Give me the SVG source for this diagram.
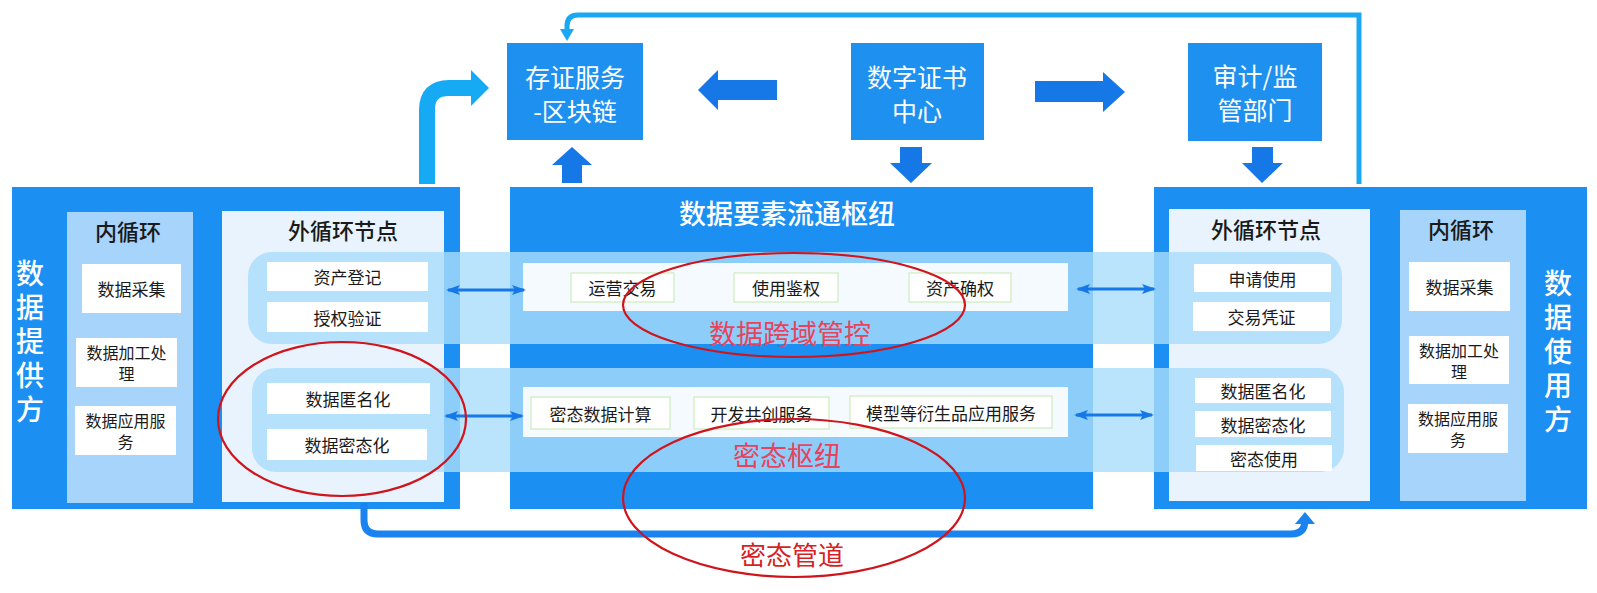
<svg xmlns="http://www.w3.org/2000/svg" width="1597" height="593" viewBox="0 0 1597 593">
<defs>
<style>
.t{font-family:"Noto Sans CJK SC","Noto Sans",sans-serif;text-anchor:middle;dominant-baseline:central}
.panel{fill:#1b8ff2}
.inner{fill:#a6d4fa}
.outer{fill:#e8f3fd}
.box{fill:#ffffff}
.hpanel{fill:#f5fafe}
.hbox{fill:#ffffff;stroke:#c6e8ad;stroke-width:1}
.band{fill:#a9dcfb;opacity:0.8}
.top{fill:#1e90f0}
.ttl{font-size:22px;font-weight:500;fill:#1a1a1a}
.lbl{font-size:17px;fill:#1a1a1a}
.lb2{font-size:16px;fill:#1a1a1a}
.wt{font-size:25px;fill:#ffffff}
.vt{font-size:28px;fill:#ffffff;font-weight:500;writing-mode:vertical-rl;letter-spacing:6px}
.red{font-size:27px;fill:#e8435a}
.ell{fill:none;stroke:#d0141c;stroke-width:2.2}
.big{fill:#1677e6}
.dbl{stroke:#1677e6;stroke-width:3;fill:none}
</style>
<marker id="ah" viewBox="0 0 14 10" refX="12" refY="5" markerWidth="14" markerHeight="10" orient="auto-start-reverse" markerUnits="userSpaceOnUse">
<path d="M0,0 L14,5 L0,10 L3,5 Z" fill="#1677e6"/>
</marker>
</defs>
<rect width="1597" height="593" fill="#ffffff"/>

<g id="provider">
<rect class="panel" x="12" y="187" width="448" height="322"/>
<text class="t vt" x="30" y="344">数据提供方</text>
</g>
<g id="hub">
<rect class="panel" x="510" y="187" width="583" height="322"/>
<text class="t" x="787" y="212" style="font-size:27px;fill:#fff;font-weight:500">数据要素流通枢纽</text>
</g>
<g id="consumer">
<rect class="panel" x="1154" y="187" width="433" height="322"/>
<text class="t vt" x="1558" y="354">数据使用方</text>
</g>

<g id="left-inner">
<rect class="inner" x="67" y="212" width="126" height="291"/>
<text class="t ttl" x="128" y="230">内循环</text>
<rect class="box" x="82" y="264" width="99" height="49"/>
<text class="t lbl" x="131.5" y="288.5">数据采集</text>
<rect class="box" x="76" y="338" width="101" height="49"/>
<text class="t lb2" x="126.5" y="352">数据加工处</text>
<text class="t lb2" x="126.5" y="373">理</text>
<rect class="box" x="75" y="406" width="101" height="49"/>
<text class="t lb2" x="125.5" y="420">数据应用服</text>
<text class="t lb2" x="125.5" y="441">务</text>
</g>

<g id="right-inner">
<rect class="inner" x="1400" y="210" width="126" height="291"/>
<text class="t ttl" x="1461" y="228">内循环</text>
<rect class="box" x="1409" y="262" width="101" height="49"/>
<text class="t lbl" x="1459.5" y="286.5">数据采集</text>
<rect class="box" x="1409" y="336" width="100" height="48"/>
<text class="t lb2" x="1459" y="350">数据加工处</text>
<text class="t lb2" x="1459" y="371">理</text>
<rect class="box" x="1408" y="404" width="100" height="49"/>
<text class="t lb2" x="1458" y="418">数据应用服</text>
<text class="t lb2" x="1458" y="439">务</text>
</g>

<g id="left-outer-bg">
<rect class="outer" x="222" y="211" width="222" height="291"/>
<text class="t ttl" x="343" y="229">外循环节点</text>
</g>
<g id="right-outer-bg">
<rect class="outer" x="1169" y="209" width="201" height="292"/>
<text class="t ttl" x="1266" y="228">外循环节点</text>
</g>

<g id="bands">
<rect class="band" x="248" y="252" width="1094" height="92" rx="24"/>
<rect class="band" x="252" y="368" width="1092" height="104" rx="24"/>
</g>

<g id="left-outer">
<rect class="box" x="267" y="262" width="161" height="29"/>
<text class="t lbl" x="347.5" y="276.5">资产登记</text>
<rect class="box" x="267" y="302" width="161" height="30"/>
<text class="t lbl" x="347.5" y="317">授权验证</text>
<rect class="box" x="267" y="383" width="163" height="31"/>
<text class="t lbl" x="348" y="398.5">数据匿名化</text>
<rect class="box" x="267" y="429" width="160" height="31"/>
<text class="t lbl" x="347" y="444.5">数据密态化</text>
</g>

<g id="right-outer">
<rect class="box" x="1194" y="264" width="137" height="28"/>
<text class="t lbl" x="1262.5" y="278">申请使用</text>
<rect class="box" x="1193" y="302" width="137" height="29"/>
<text class="t lbl" x="1261.5" y="316.5">交易凭证</text>
<rect class="box" x="1195" y="378" width="136" height="25"/>
<text class="t lbl" x="1263" y="390.5">数据匿名化</text>
<rect class="box" x="1195" y="411" width="136" height="26"/>
<text class="t lbl" x="1263" y="424">数据密态化</text>
<rect class="box" x="1196" y="445" width="136" height="26"/>
<text class="t lbl" x="1264" y="458">密态使用</text>
</g>

<g id="hub-control">
<rect class="hpanel" x="523" y="263" width="545" height="48"/>
<rect class="hbox" x="571" y="273" width="103" height="29"/>
<text class="t lbl" x="622.5" y="287.5">运营交易</text>
<rect class="hbox" x="734" y="273" width="104" height="29"/>
<text class="t lbl" x="786" y="287.5">使用鉴权</text>
<rect class="hbox" x="909" y="273" width="102" height="29"/>
<text class="t lbl" x="960" y="287.5">资产确权</text>
</g>
<g id="hub-crypto">
<rect class="hpanel" x="523" y="387" width="545" height="50"/>
<rect class="hbox" x="531" y="397" width="139" height="32"/>
<text class="t lbl" x="600.5" y="413">密态数据计算</text>
<rect class="hbox" x="694" y="397" width="135" height="32"/>
<text class="t lbl" x="761.5" y="413">开发共创服务</text>
<rect class="hbox" x="850" y="396" width="202" height="32"/>
<text class="t lbl" x="951" y="412">模型等衍生品应用服务</text>
</g>

<g id="cunzheng">
<rect class="top" x="507" y="43" width="136" height="97"/>
<text class="t wt" x="575" y="76">存证服务</text>
<text class="t wt" x="575" y="110">-区块链</text>
</g>
<g id="ca">
<rect class="top" x="851" y="43" width="133" height="97"/>
<text class="t wt" x="917" y="76">数字证书</text>
<text class="t wt" x="917" y="110">中心</text>
</g>
<g id="audit">
<rect class="top" x="1188" y="43" width="134" height="98"/>
<text class="t wt" x="1255" y="75">审计/监</text>
<text class="t wt" x="1255" y="109">管部门</text>
</g>

<g id="connectors">
<polygon class="big" points="698,90 718,70 718,80 777,80 777,100 718,100 718,110"/>
<polygon class="big" points="1035,81 1103,81 1103,72 1125,92 1103,112 1103,102 1035,102"/>
<polygon class="big" points="900,147 922,147 922,163 932,163 911,183 890,163 900,163"/>
<polygon class="big" points="1252,147 1273,147 1273,163 1283,163 1262,183 1242,163 1252,163"/>
<polygon class="big" points="562,183 582,183 582,165 592,165 572,147 552,165 562,165"/>
<path d="M427,184 V110 Q427,88 449,88 H474" fill="none" stroke="#16a9f4" stroke-width="16"/>
<polygon points="471,70 489,88 471,106" fill="#16a9f4"/>
<path d="M1359,184 V15 H578 Q567,15 567,26 V30" fill="none" stroke="#1aa8f2" stroke-width="5"/>
<polygon points="560,29 574,29 567,41" fill="#1aa8f2"/>
<path d="M364,503 V520 Q364,534 378,534 H1291 Q1305,534 1305,520 V524" fill="none" stroke="#1b83ef" stroke-width="7"/>
<polygon points="1295,524 1305,512 1315,524" fill="#1b83ef"/>
<line class="dbl" x1="448" y1="290" x2="524" y2="290" marker-start="url(#ah)" marker-end="url(#ah)"/>
<line class="dbl" x1="446" y1="416" x2="522" y2="416" marker-start="url(#ah)" marker-end="url(#ah)"/>
<line class="dbl" x1="1078" y1="289" x2="1154" y2="289" marker-start="url(#ah)" marker-end="url(#ah)"/>
<line class="dbl" x1="1076" y1="415" x2="1152" y2="415" marker-start="url(#ah)" marker-end="url(#ah)"/>
</g>

<g id="annotations">
<text class="t red" x="790" y="332">数据跨域管控</text>
<text class="t red" x="787" y="454">密态枢纽</text>
<text class="t" x="792" y="553" style="font-size:26px;fill:#d61f26">密态管道</text>
<ellipse class="ell" cx="342" cy="419" rx="124" ry="77"/>
<ellipse class="ell" cx="794" cy="305" rx="171" ry="52"/>
<ellipse class="ell" cx="794" cy="498" rx="171" ry="79"/>
</g>
</svg>
